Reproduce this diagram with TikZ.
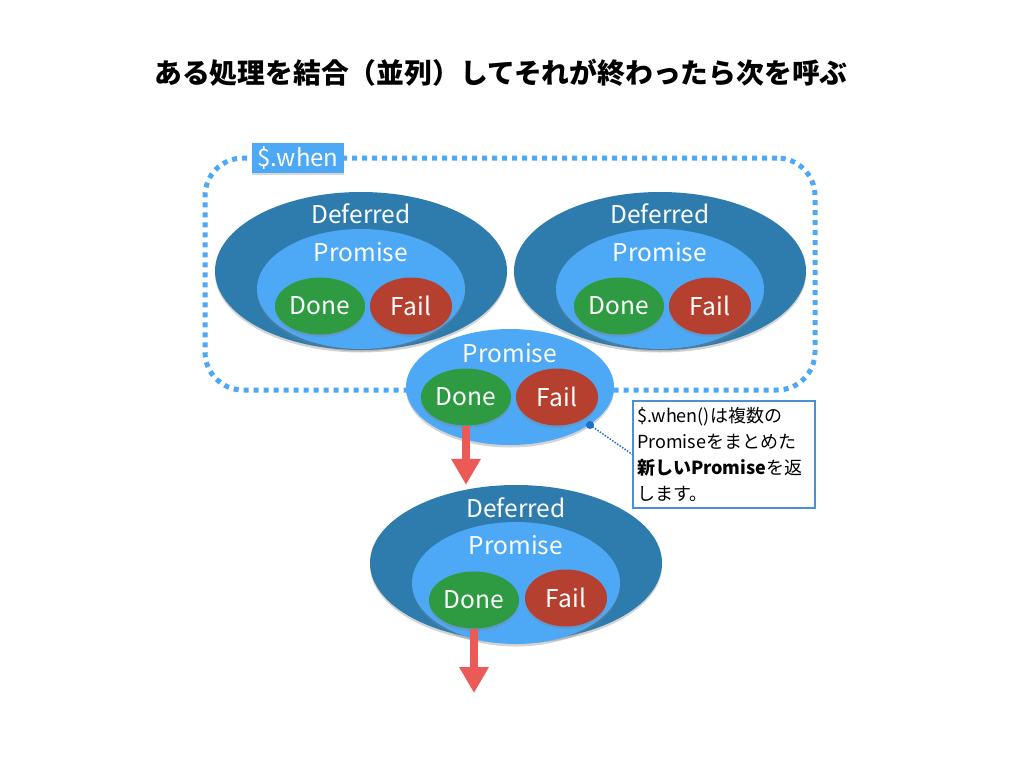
\documentclass[tikz,border=0pt]{standalone}
\usepackage{fontspec}
\setmainfont{Noto Sans CJK JP}
\usepackage{tikz}
\usetikzlibrary{shapes.geometric, arrows.meta, positioning, shadows}
\definecolor{defblue}{HTML}{2E7BAE}
\definecolor{promblue}{HTML}{4DA8F5}
\definecolor{donegreen}{HTML}{2E9A42}
\definecolor{failred}{HTML}{B5402F}
\definecolor{arrowred}{HTML}{EC5A57}
\definecolor{noteblue}{HTML}{4A90D9}
\definecolor{pinblue}{HTML}{1F6FC8}

\begin{document}
\begin{tikzpicture}[
  x=1pt, y=-1pt,
  shade/.style={drop shadow={shadow xshift=0pt, shadow yshift=-2.5pt, opacity=0.35}},
  deferred/.style={ellipse, fill=defblue, minimum width=292pt, minimum height=158pt, inner sep=0pt, shade},
  promise/.style={ellipse, fill=promblue, minimum width=208pt, minimum height=120pt, inner sep=0pt, shade},
  done/.style={ellipse, fill=donegreen, minimum width=90pt, minimum height=57pt, inner sep=0pt, shade, text=white, font=\fontsize{24.5}{28}\selectfont},
  fail/.style={ellipse, fill=failred, minimum width=82pt, minimum height=57pt, inner sep=0pt, shade, text=white, font=\fontsize{24.5}{28}\selectfont},
  lbl/.style={text=white, inner sep=0pt, font=\fontsize{24.5}{28}\selectfont},
  arr/.style={-{Triangle[width=28pt, length=26pt]}, line width=8pt, arrowred},
  whenframe/.style={draw=promblue, line width=5pt, dash pattern=on 5pt off 5pt, rounded corners=38pt, minimum width=610pt, minimum height=232pt},
]
\useasboundingbox (0,0) rectangle (1024,768);

% Title
\node[font=\fontsize{27.8}{32}\selectfont\bfseries] (title) at (501,73) {ある処理を結合（並列）してそれが終わったら次を呼ぶ};

% $.when frame
\node[whenframe] (whenbox) at (510,274) {};
\node[fill=promblue, text=white, minimum width=92pt, minimum height=30pt, inner sep=0pt,
      font=\fontsize{24}{28}\selectfont, drop shadow={shadow xshift=0pt, shadow yshift=-1.5pt, opacity=0.3}] (whenlbl) at (298,158) {\$.when};

% Deferreds inside $.when
\foreach \i/\x in {1/361, 2/660} {
  \node[deferred] (def\i) at (\x,271) {};
  \node[lbl] (def\i lbl) at (\x,214) {Deferred};
  \node[promise] (prom\i) at (\x,289) {};
  \node[lbl] (prom\i lbl) at (\x,252) {Promise};
  \node[done] (done\i) at (\x-41,306) {Done};
  \node[fail] (fail\i) at (\x+50,306) {Fail};
}

% Combined promise
\node[promise, minimum height=116pt] (prom0) at (510,387) {};
\node[lbl] (prom0lbl) at (510,353) {Promise};
\node[done] (done0) at (466,397) {Done};
\node[fail] (fail0) at (557,397) {Fail};

% Next Deferred
\node[deferred, minimum height=156pt] (def3) at (516,563) {};
\node[lbl] (def3lbl) at (516,508) {Deferred};
\node[promise, minimum height=122pt] (prom3) at (516,583) {};
\node[lbl] (prom3lbl) at (516,545) {Promise};
\node[done] (done3) at (474,600) {Done};
\node[fail] (fail3) at (566,598) {Fail};

% Arrows
\coordinate (next) at (474,693);
\draw[arr] (done0.south) -- (done0.south |- def3.north);
\draw[arr] (done3.south) -- (next);

% Note
\node[draw=noteblue, line width=1.2pt, fill=white, minimum width=182pt, minimum height=107pt,
      text width=174pt, align=left, inner sep=4pt,
      font=\fontsize{18}{26}\selectfont] (note) at (724,454.5)
  {\$.when()は複数の\\Promiseをまとめた\\\textbf{新しいPromise}を返\\します。};
\coordinate (pin) at (590,425);
\draw[pinblue, line width=1.5pt, dash pattern=on 1.5pt off 1.5pt] (pin) -- (note.west);
\fill[pinblue] (pin) circle (4pt);

\end{tikzpicture}
\end{document}
